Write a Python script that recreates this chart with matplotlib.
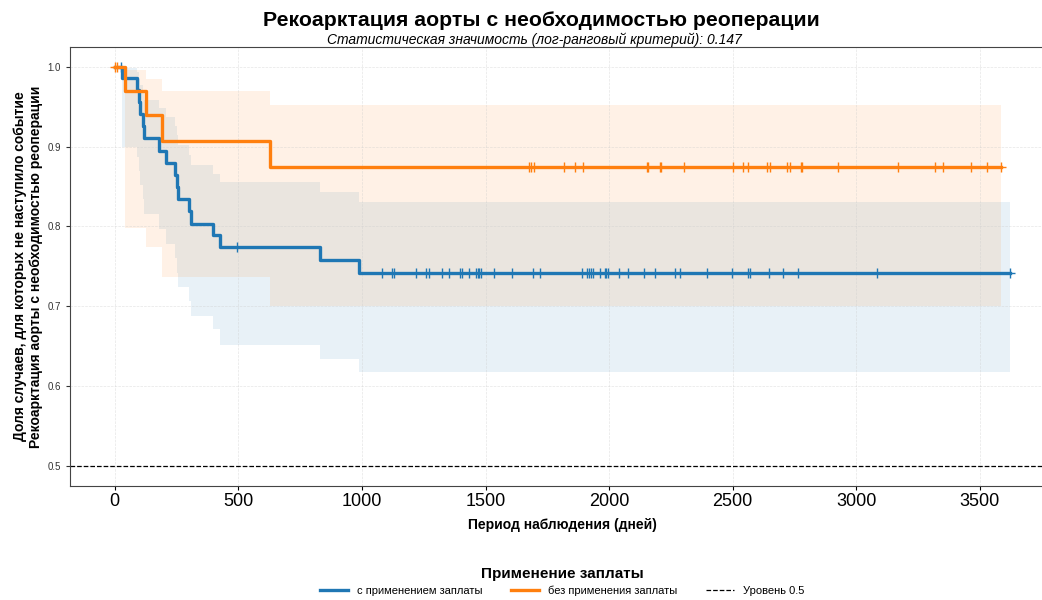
import matplotlib
matplotlib.use("Agg")
import matplotlib.pyplot as plt
import numpy as np

plt.rcParams["font.family"] = ["Liberation Sans", "DejaVu Sans"]

# --- data ---
# group 1: "с применением заплаты"
patch_t = [0, 30, 92, 98, 104, 114, 120, 180, 206, 245, 250, 256, 302, 308, 399, 424, 829, 988]
patch_s = [1.0, 0.986, 0.971, 0.956, 0.941, 0.926, 0.911, 0.895, 0.879, 0.864, 0.849, 0.834,
           0.819, 0.803, 0.789, 0.774, 0.758, 0.742]
patch_lo = [1.0, 0.899, 0.887, 0.870, 0.852, 0.834, 0.815, 0.797, 0.778, 0.761, 0.742, 0.724,
            0.706, 0.688, 0.672, 0.652, 0.634, 0.618]
patch_hi = [1.0, 0.998, 0.993, 0.985, 0.977, 0.968, 0.958, 0.948, 0.937, 0.926, 0.914, 0.902,
            0.890, 0.877, 0.866, 0.855, 0.843, 0.831]
patch_end = 3620
patch_cens = [25, 493, 1082, 1123, 1128, 1219, 1260, 1270, 1323, 1354, 1398, 1403, 1434, 1461,
              1468, 1475, 1481, 1535, 1606, 1694, 1719, 1889, 1911, 1918, 1925, 1934, 1965, 1983,
              1989, 1995, 2039, 2077, 2143, 2187, 2265, 2288, 2395, 2496, 2560, 2570, 2648, 2704,
              2765, 3082, 3620]

# group 2: "без применения заплаты"
nopatch_t = [0, 40, 128, 191, 628]
nopatch_s = [1.0, 0.970, 0.939, 0.907, 0.875]
nopatch_lo = [1.0, 0.798, 0.774, 0.737, 0.700]
nopatch_hi = [1.0, 0.996, 0.985, 0.970, 0.952]
nopatch_end = 3585
nopatch_cens = [2, 9, 1676, 1686, 1695, 1817, 1864, 1894, 2153, 2157, 2207, 2211, 2305, 2503,
                2543, 2563, 2640, 2651, 2718, 2731, 2778, 2782, 2926, 3168, 3319, 3350, 3466,
                3528, 3585]

title = "Рекоарктация аорты с необходимостью реоперации"
subtitle = "Статистическая значимость (лог-ранговый критерий): 0.147"
labels = ["с применением заплаты", "без применения заплаты"]
colors = ["#1f77b4", "#ff7f0e"]


def draw_km(ax, t, s, lo, hi, end, cens, color, label):
    t = np.append(t, end)
    s = np.append(s, s[-1])
    lo = np.append(lo, lo[-1])
    hi = np.append(hi, hi[-1])
    ax.fill_between(t, lo, hi, step="post", color=color, alpha=0.1, linewidth=0)
    ax.plot(t, s, drawstyle="steps-post", color=color, linewidth=2.4, label=label)
    idx = np.searchsorted(t, cens, side="right") - 1
    ax.plot(cens, s[idx], linestyle="None", marker="+", ms=7, mew=1,
            color=color)


fig = plt.figure(figsize=(10.42, 6), dpi=100)
ax = fig.add_axes([70 / 1042, 1 - 486 / 600, (1055 - 70) / 1042, (486 - 46.7) / 600])

draw_km(ax, patch_t, patch_s, patch_lo, patch_hi, patch_end, patch_cens, colors[0], labels[0])
draw_km(ax, nopatch_t, nopatch_s, nopatch_lo, nopatch_hi, nopatch_end, nopatch_cens, colors[1], labels[1])
ax.axhline(0.5, color="black", linestyle="--", linewidth=0.9, label="Уровень 0.5")

ax.set_xlim(-181, 3804)
ax.set_ylim(0.475, 1.025)
ax.set_xticks(np.arange(0, 3501, 500))
ax.set_yticks([0.5, 0.6, 0.7, 0.8, 0.9, 1.0])
ax.tick_params(axis="x", labelsize=13, length=3, pad=2)
ax.tick_params(axis="y", labelsize=7, length=3, colors="#333333", labelcolor="#333333")
ax.grid(True, linestyle="--", linewidth=0.5, color="#cccccc", alpha=0.5)
for sp in ax.spines.values():
    sp.set_color("#444444")

ax.set_xlabel("Период наблюдения (дней)", fontsize=10, fontweight="bold", labelpad=6)
ax.set_ylabel("Доля случаев, для которых не наступило событие\n"
              "Рекоарктация аорты с необходимостью реоперации",
              fontsize=10, fontweight="bold", labelpad=3)

fig.text(541 / 1042, 1 - 20 / 600, title, ha="center", va="center",
         fontsize=15.3, fontweight="bold")
fig.text(534 / 1042, 1 - 40 / 600, subtitle, ha="center", va="center",
         fontsize=10, style="italic")

leg = ax.legend(loc="upper center", bbox_to_anchor=((562 - 70) / 985, -0.17), ncol=3,
                frameon=False, fontsize=8, title="Применение заплаты",
                title_fontproperties={"weight": "bold", "size": 11},
                handlelength=2.5, columnspacing=2.6, labelspacing=0.35,
                borderaxespad=0.2)

fig.savefig("out.png", dpi=100)
